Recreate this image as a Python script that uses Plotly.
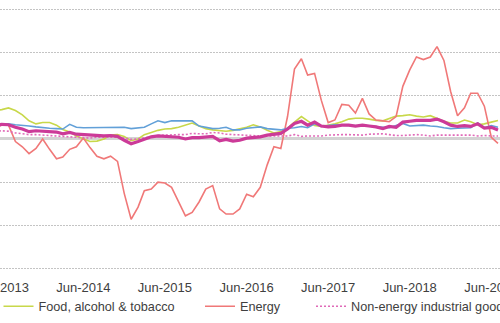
import plotly.graph_objects as go

# Monthly observations, May-2013 .. Jul-2019
months = [f"{y}-{m:02d}-01" for y in range(2013, 2020) for m in range(1, 13)]
months = months[4:4 + 75]

food = [3.3, 3.4, 3.6, 3.3, 2.8, 2.1, 1.75, 1.9,
        1.9, 1.6, 1.1, 0.8, 0.35, 0.0, -0.3, -0.25, 0.0, 0.45, 0.5, 0.3,
        -0.2, 0.0, 0.5, 0.75, 1.0, 1.15, 1.2, 1.35, 1.6, 1.85, 1.5, 1.2,
        1.05, 0.95, 0.9, 1.0, 1.2, 1.35, 1.65, 1.4, 1.0, 0.7, 0.85, 1.25,
        1.95, 2.6, 2.1, 1.55, 1.45, 1.6, 1.75, 2.0, 2.3, 2.4, 2.4, 2.3,
        2.15, 2.1, 2.4, 2.65, 2.7, 2.8, 2.65, 2.55, 2.7, 2.4, 2.05, 1.85,
        1.85, 2.2, 2.0, 1.65, 1.75, 1.95, 2.15]

energy = [1.4, 1.6, 1.6, -0.3, -0.9, -1.7, -1.1, 0.0,
          -1.2, -2.3, -2.1, -1.2, -0.9, 0.1, -1.0, -2.0, -2.3, -2.0, -2.6, -6.3,
          -9.3, -7.9, -6.0, -5.8, -5.0, -5.1, -5.6, -7.2, -8.9, -8.5, -7.3, -5.8,
          -5.4, -8.1, -8.7, -8.7, -8.1, -6.4, -6.7, -5.6, -3.0, -0.9, -1.1, 2.6,
          8.1, 9.3, 7.4, 7.6, 4.5, 1.9, 2.2, 4.0, 3.9, 3.0, 4.7, 2.9,
          2.2, 2.1, 2.0, 2.6, 6.1, 8.0, 9.5, 9.2, 9.5, 10.7, 9.1, 5.5,
          2.7, 3.6, 5.3, 5.3, 3.8, 0.2, -0.5]

neig = [0.9, 0.95, 0.9, 0.7, 0.6, 0.5, 0.5, 0.45,
        0.4, 0.4, 0.35, 0.3, 0.25, 0.2, 0.1, 0.2, 0.2, 0.2, 0.2, 0.1,
        -0.05, 0.0, 0.15, 0.3, 0.4, 0.45, 0.5, 0.5, 0.5, 0.65, 0.6, 0.6,
        0.75, 0.7, 0.55, 0.5, 0.5, 0.45, 0.4, 0.35, 0.35, 0.35, 0.35, 0.35,
        0.5, 0.3, 0.35, 0.35, 0.35, 0.45, 0.5, 0.5, 0.5, 0.45, 0.45, 0.55,
        0.6, 0.6, 0.5, 0.4, 0.4, 0.45, 0.5, 0.45, 0.35, 0.45, 0.45, 0.45,
        0.4, 0.45, 0.45, 0.35, 0.4, 0.35, 0.35]

services = [1.75, 1.75, 1.75, 1.65, 1.6, 1.5, 1.4, 1.3,
            1.25, 1.2, 1.15, 1.7, 1.35, 1.3, 1.3, 1.35, 1.35, 1.3, 1.35, 1.35,
            1.2, 1.3, 1.35, 1.75, 2.1, 1.9, 2.1, 2.1, 2.1, 2.1, 1.5, 1.35,
            1.2, 1.25, 1.35, 1.05, 1.05, 1.25, 1.3, 1.4, 1.2, 1.1, 1.05, 1.25,
            1.3, 1.45, 1.3, 1.75, 1.45, 1.55, 1.65, 1.6, 1.55, 1.5, 1.5, 1.5,
            1.45, 1.4, 1.3, 1.55, 1.8, 1.5, 1.55, 1.6, 1.5, 1.45, 1.3, 1.2,
            1.25, 1.25, 1.3, 1.85, 1.3, 1.55, 1.35]

hicp = [1.5, 1.7, 1.65, 1.35, 1.15, 0.85, 0.95, 0.9,
        0.85, 0.8, 0.6, 0.75, 0.55, 0.5, 0.45, 0.45, 0.35, 0.4, 0.3, -0.15,
        -0.55, -0.3, -0.05, 0.25, 0.35, 0.3, 0.3, 0.2, 0.0, 0.15, 0.15, 0.25,
        0.3, -0.2, -0.05, -0.25, -0.15, 0.1, 0.2, 0.25, 0.45, 0.55, 0.65, 1.15,
        1.8, 2.05, 1.6, 1.95, 1.5, 1.4, 1.45, 1.6, 1.6, 1.5, 1.6, 1.5,
        1.4, 1.2, 1.45, 1.35, 1.95, 2.05, 2.15, 2.15, 2.15, 2.3, 2.0, 1.6,
        1.45, 1.55, 1.45, 1.75, 1.25, 1.35, 1.05]

tick_dates = ["2013-06-01", "2014-06-01", "2015-06-01", "2016-06-01",
              "2017-06-01", "2018-06-01", "2019-06-01"]
tick_text = ["Jun-2013", "Jun-2014", "Jun-2015", "Jun-2016",
             "Jun-2017", "Jun-2018", "Jun-2019"]

TICK_FONT = dict(family="Liberation Sans, Arial, sans-serif", size=13, color="#404040")
LEG_FONT = dict(family="Liberation Sans, Arial, sans-serif", size=12.7, color="#404040")

fig = go.Figure()
fig.add_trace(go.Scatter(x=months, y=food, name="Food, alcohol & tobacco", mode="lines",
                         line=dict(color="#c8d84a", width=1.6), legend="legend"))
fig.add_trace(go.Scatter(x=months, y=energy, name="Energy", mode="lines",
                         line=dict(color="#f07878", width=1.6), legend="legend2"))
fig.add_trace(go.Scatter(x=months, y=neig, name="Non-energy industrial goods", mode="lines",
                         line=dict(color="#e06ab8", width=1.6, dash="2px,2px"), legend="legend3"))
fig.add_trace(go.Scatter(x=months, y=services, name="Services", mode="lines",
                         line=dict(color="#62a0d8", width=1.6), legend="legend4"))
fig.add_trace(go.Scatter(x=months, y=hicp, name="HICP", mode="lines",
                         line=dict(color="#cc3a98", width=3.2), legend="legend4"))

x_range = ["2013-05-24", "2019-07-10"]

leg_common = dict(orientation="h", yanchor="middle", y=-0.135, xanchor="left",
                  font=LEG_FONT, bgcolor="rgba(0,0,0,0)", borderwidth=0)

fig.update_layout(
    width=500, height=323,
    margin=dict(l=0, r=0, t=0, b=53, pad=0, autoexpand=False),
    paper_bgcolor="white", plot_bgcolor="white",
    font=LEG_FONT,
    showlegend=True,
    legend=dict(x=-0.003, **leg_common),
    legend2=dict(x=0.4, **leg_common),
    legend3=dict(x=0.622, **leg_common),
    legend4=dict(x=1.05, **leg_common),
    xaxis=dict(type="date", range=x_range, tickvals=tick_dates, ticktext=tick_text,
               showgrid=False, zeroline=False, showline=False,
               ticks="outside", ticklen=5, tickcolor="rgba(0,0,0,0)",
               tickfont=TICK_FONT, ticklabeloverflow="allow"),
    xaxis2=dict(type="date", range=x_range, overlaying="x", anchor="free",
                position=15.18 / 31.28, tickvals=tick_dates, showticklabels=False,
                ticks="outside", ticklen=4, tickwidth=1, tickcolor="#a0a0a0",
                showgrid=False, zeroline=False, showline=False),
    yaxis=dict(range=[-15.18, 16.1], tick0=0, dtick=5, showticklabels=False,
               showgrid=True, gridcolor="#c4c4c4", gridwidth=1, griddash="2px,1px",
               zeroline=True, zerolinecolor="#d3d3d3", zerolinewidth=3,
               showline=False, ticks=""),
)

fig.write_html("out.html")
